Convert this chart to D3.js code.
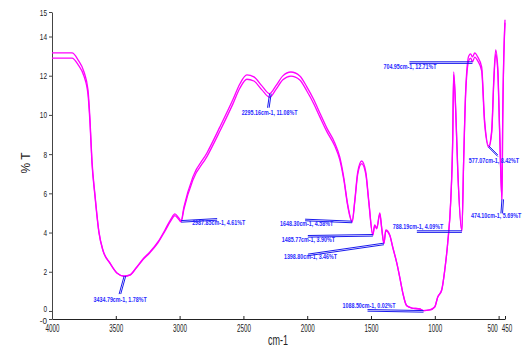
<!DOCTYPE html>
<html>
<head>
<meta charset="utf-8">
<script src="https://cdn.jsdelivr.net/npm/d3@7"></script>
<style>
  body { margin: 0; background: #fff; }
  svg { display: block; font-family: "Liberation Sans", Arial, sans-serif; }
</style>
</head>
<body>
<div id="chart"></div>
<script>
// wavenumber (cm-1) and two transmittance traces (%T)
const wavenumbers = [4000, 3843, 3796, 3749, 3718, 3702, 3687, 3663, 3632, 3601,
    3546, 3491, 3435, 3389, 3342, 3287, 3233, 3170, 3115, 3068,
    3037, 3006, 2988, 2966, 2896, 2786, 2684, 2583, 2528, 2473,
    2418, 2355, 2295, 2246, 2191, 2128, 2058, 2003, 1948, 1901,
    1847, 1784, 1745, 1713, 1682, 1648, 1627, 1604, 1573, 1541,
    1518, 1486, 1471, 1455, 1431, 1416, 1399, 1384, 1353, 1330,
    1298, 1275, 1251, 1220, 1181, 1118, 1089, 1040, 1001, 977,
    946, 922, 899, 875, 860, 852, 836, 820, 788, 774,
    758, 734, 719, 705, 687, 664, 633, 610, 577, 554,
    538, 523, 507, 492, 474, 468, 450];
const transA = [13.16, 13.16, 12.81, 12.19, 11.28, 9.74, 7.70, 5.92, 4.03, 3.11,
    2.45, 1.94, 1.78, 1.84, 2.19, 2.65, 3.01, 3.52, 4.13, 4.69,
    4.95, 4.74, 4.61, 5.31, 6.84, 8.06, 9.39, 10.77, 11.58, 12.04,
    11.94, 11.48, 11.08, 11.48, 11.99, 12.19, 11.99, 11.43, 10.77, 10.10,
    9.34, 8.57, 7.86, 6.79, 5.41, 4.58, 5.66, 7.09, 7.65, 7.09,
    5.66, 3.90, 4.39, 4.23, 5.00, 4.23, 3.46, 4.13, 3.88, 3.27,
    2.45, 1.73, 0.92, 0.26, 0.15, 0.10, 0.02, 0.05, 0.20, 0.71,
    1.07, 2.09, 3.47, 5.66, 8.72, 12.19, 10.26, 7.19, 4.09, 7.70,
    11.28, 13.01, 13.11, 12.96, 13.16, 12.96, 12.45, 9.74, 8.42, 9.23,
    11.79, 13.32, 12.45, 9.23, 5.69, 9.74, 14.85];
const transB = [12.90, 12.90, 12.57, 11.97, 11.05, 9.55, 7.56, 5.83, 3.98, 3.08,
    2.43, 1.93, 1.77, 1.83, 2.17, 2.62, 2.97, 3.47, 4.07, 4.61,
    4.86, 4.66, 4.55, 5.20, 6.68, 7.87, 9.18, 10.55, 11.36, 11.82,
    11.73, 11.28, 10.90, 11.29, 11.79, 11.98, 11.78, 11.22, 10.56, 9.90,
    9.16, 8.41, 7.72, 6.68, 5.33, 4.52, 5.58, 6.98, 7.52, 6.98,
    5.58, 3.86, 4.34, 4.19, 4.94, 4.19, 3.43, 4.09, 3.85, 3.25,
    2.44, 1.72, 0.92, 0.26, 0.15, 0.10, 0.02, 0.05, 0.20, 0.71,
    1.07, 2.09, 3.47, 5.62, 8.62, 12.05, 10.14, 7.10, 4.06, 7.62,
    11.10, 12.78, 12.90, 12.71, 12.95, 12.76, 12.25, 9.58, 8.34, 9.12,
    11.62, 13.10, 12.27, 9.10, 5.65, 9.62, 14.70];

// peak picks
const peakWn = [3434.79, 2987.85, 2295.16, 1648.30, 1485.77, 1398.80, 1088.50, 788.19, 704.95, 577.07, 474.10];
const peakT = [1.78, 4.61, 11.08, 4.58, 3.90, 3.46, 0.02, 4.09, 12.71, 8.42, 5.69];
const peakText = ["3434.79cm-1, 1.78%T", "2987.85cm-1, 4.61%T", "2295.16cm-1, 11.08%T",
    "1648.30cm-1, 4.58%T", "1485.77cm-1, 3.90%T", "1398.80cm-1, 3.46%T",
    "1088.50cm-1, 0.02%T", "788.19cm-1, 4.09%T", "704.95cm-1, 12.71%T",
    "577.07cm-1, 8.42%T", "474.10cm-1, 5.69%T"];

const xTicks = [4000, 3500, 3000, 2500, 2000, 1500, 1000, 500, 450];
const yTicks = [-0.41, 0, 2, 4, 6, 8, 10, 12, 14, 15.25];
const yTickLabels = ["-0", "0", "2", "4", "6", "8", "10", "12", "14", "15"];

// leader end offsets (px) and text placement for each peak label
const labelLayout = [
    {ex: -5, ey: 18, tx: -4, ty: 26, anchor: "middle"},
    {ex: 36, ey: -2, tx: 11, ty: 4, anchor: "start"},
    {ex: -2, ey: 14, tx: 0, ty: 21, anchor: "middle"},
    {ex: -47, ey: -2, tx: -72, ty: 5, anchor: "start"},
    {ex: -65, ey: 1, tx: -91, ty: 7, anchor: "start"},
    {ex: -76, ey: 11, tx: -100, ty: 16, anchor: "start"},
    {ex: -56, ey: -1, tx: -81, ty: -3, anchor: "start"},
    {ex: -45, ey: 0, tx: -69, ty: -2, anchor: "start"},
    {ex: -63, ey: 0, tx: -89, ty: 7, anchor: "start"},
    {ex: 9, ey: 9, tx: -20, ty: 17, anchor: "start"},
    {ex: -1, ey: 14, tx: -31, ty: 19, anchor: "start"}
];

const W = 524, H = 347;
const svg = d3.select("#chart").append("svg")
    .attr("width", W)
    .attr("height", H);

const x = d3.scaleLinear().domain([4000, 450]).range([52, 505]);
const y = d3.scaleLinear().domain([-0.41, 15.25]).range([319, 12]);

// squash text horizontally like the original export (scale about its anchor)
function squeeze(sel, perChar) {
    sel.each(function() {
        const t = d3.select(this);
        const natural = this.getComputedTextLength();
        const s = (t.text().length * perChar) / natural;
        const tx = +t.attr("x") || 0, ty = +t.attr("y") || 0;
        t.attr("x", 0).attr("y", 0)
            .attr("transform", `translate(${tx},${ty}) scale(${s},1)`);
    });
}

// axes
const gx = svg.append("g")
    .attr("transform", `translate(0,${y(-0.41)})`)
    .call(d3.axisBottom(x).tickValues(xTicks).tickSize(3).tickSizeOuter(0).tickFormat(d3.format("d")));
gx.select(".domain").attr("stroke", "#222");
gx.selectAll(".tick line").attr("stroke", "#222").attr("y2", -3);
gx.selectAll(".tick text")
    .attr("y", 6)
    .attr("x", d => d === 500 ? -6.5 : (d === 450 ? 1.5 : 0))
    .style("font-size", "10px")
    .attr("fill", "#222")
    .call(squeeze, 3.5);

const gy = svg.append("g")
    .attr("transform", `translate(52,0)`)
    .call(d3.axisLeft(y).tickValues(yTicks).tickSize(3).tickSizeOuter(0).tickPadding(2)
        .tickFormat((d, i) => yTickLabels[i]));
gy.select(".domain").attr("stroke", "#444");
gy.selectAll(".tick line").attr("stroke", "#444");
gy.selectAll(".tick text")
    .style("font-size", "9.5px")
    .attr("fill", "#222")
    .attr("y", d => d === 0 ? -3 : (d < 0 ? 1 : 0))
    .call(squeeze, 3.6);

// axis titles
svg.append("text")
    .attr("transform", "translate(30,163) rotate(-90)")
    .attr("text-anchor", "middle")
    .style("font-size", "12px")
    .attr("fill", "#222")
    .text("% T");

svg.append("text")
    .attr("x", 278)
    .attr("y", 345)
    .attr("text-anchor", "middle")
    .style("font-size", "14px")
    .attr("fill", "#222")
    .text("cm-1")
    .call(squeeze, 5);

// spectra
const lineA = d3.line()
    .x((d, i) => x(wavenumbers[i]))
    .y(d => y(d))
    .curve(d3.curveMonotoneX);

[transB, transA].forEach(series => {
    svg.append("path")
        .datum(series)
        .attr("fill", "none")
        .attr("stroke", "#ff00ff")
        .attr("stroke-width", 1.3)
        .attr("d", lineA);
});

// peak labels
const blue = "#1a1aee";
peakWn.forEach((wn, i) => {
    const px = x(wn), py = y(peakT[i]);
    const L = labelLayout[i];
    const g = svg.append("g");
    [0, 1.6].forEach(off => {
        const vertical = Math.abs(L.ex) < Math.abs(L.ey);
        g.append("line")
            .attr("x1", px + (vertical ? off : 0))
            .attr("y1", py + (vertical ? 0 : off))
            .attr("x2", px + L.ex + (vertical ? off : 0))
            .attr("y2", py + L.ey + (vertical ? 0 : off))
            .attr("stroke", blue)
            .attr("stroke-width", 1);
    });
    g.append("text")
        .attr("x", px + L.tx)
        .attr("y", py + L.ty)
        .attr("text-anchor", L.anchor)
        .style("font-size", "7.5px")
        .style("font-weight", "bold")
        .attr("fill", "#2a2aff")
        .text(peakText[i])
        .call(squeeze, 2.8);
});
</script>
</body>
</html>
